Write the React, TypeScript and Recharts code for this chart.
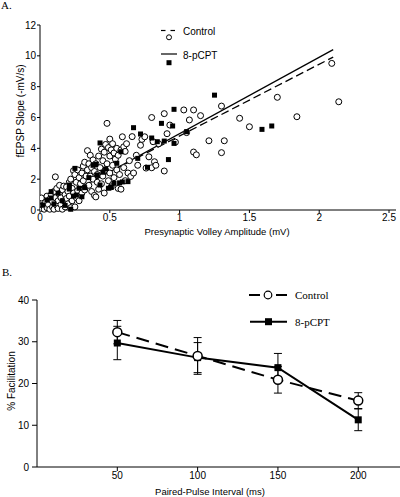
import React from 'react';
import { ScatterChart, Scatter, XAxis, YAxis, ReferenceLine, LineChart, Line, ErrorBar } from 'recharts';

// ---------- Panel A data ----------
const controlPoints: [number, number][] = [
  [0.01,0.1],[0.01,0.78],[0.02,0.3],[0.03,0.05],[0.04,0.5],[0.05,0.15],[0.05,0.9],[0.06,0.35],[0.07,0.05],[0.07,0.7],
  [0.08,1.0],[0.09,0.2],[0.09,0.55],[0.1,1.2],[0.1,0.05],[0.11,2.15],[0.11,0.8],[0.12,0.3],[0.12,1.4],[0.13,0.6],
  [0.13,0.1],[0.14,1.0],[0.14,1.6],[0.15,0.35],[0.15,0.8],[0.16,1.3],[0.16,0.05],[0.17,1.55],[0.17,0.6],[0.18,1.0],
  [0.18,0.2],[0.19,1.5],[0.19,0.75],[0.2,1.2],[0.2,0.4],[0.21,1.8],[0.21,0.9],[0.22,2.0],[0.22,0.15],[0.23,1.4],
  [0.23,0.6],[0.24,2.55],[0.24,1.1],[0.25,2.3],[0.25,0.2],[0.26,1.8],[0.26,0.8],[0.27,2.6],[0.27,1.25],[0.28,2.1],
  [0.28,0.6],[0.29,1.7],[0.3,2.4],[0.3,1.1],
  [0.31,2.85],[0.31,1.9],[0.32,3.1],[0.32,1.3],[0.33,2.2],[0.34,3.85],[0.34,2.6],[0.35,1.6],[0.35,3.0],[0.36,3.55],
  [0.36,2.2],[0.37,1.2],[0.37,2.75],[0.38,2.0],[0.38,3.25],[0.39,0.95],[0.39,2.5],[0.4,0.85],[0.4,3.0],[0.41,1.8],
  [0.41,2.3],[0.42,3.5],[0.42,1.35],[0.43,2.75],[0.44,3.95],[0.44,1.7],[0.45,2.2],[0.45,3.2],[0.46,3.75],[0.46,1.1],
  [0.47,4.25],[0.47,2.6],[0.48,5.62],[0.48,3.0],[0.49,4.05],[0.49,1.9],[0.5,4.6],[0.5,3.5],[0.5,2.4],[0.51,3.9],
  [0.51,1.5],[0.52,4.3],[0.52,2.9],[0.53,3.7],[0.53,2.1],[0.54,3.3],[0.55,2.6],[0.55,4.0],[0.56,1.4],[0.56,3.55],
  [0.57,2.3],[0.58,3.9],[0.58,1.35],[0.59,4.75],[0.6,4.1],[0.6,2.75],[0.61,1.9],[0.61,3.8],[0.62,4.3],[0.63,2.4],
  [0.64,3.2],[0.65,2.18],
  [0.66,4.76],[0.67,2.4],[0.69,3.55],[0.7,2.9],[0.72,4.2],[0.73,4.58],[0.75,4.75],[0.76,2.72],[0.78,3.45],[0.8,2.74],
  [0.8,6.0],[0.81,4.43],[0.82,3.13],[0.83,2.9],[0.85,4.3],[0.89,2.53],[0.89,6.25],[0.91,4.95],[0.93,5.51],[0.97,4.4],
  [1.03,6.49],[1.05,5.02],[1.07,5.84],[1.1,6.49],[1.1,3.76],[1.12,3.58],[1.15,6.12],[1.21,4.49],[1.3,6.74],[1.32,4.49],
  [1.3,3.72],[1.43,5.95],[1.5,5.4],[1.7,7.31],[1.84,6.05],[2.09,9.51],[2.14,7.02],
];

const pcptPoints: [number, number][] = [
  [0.02,0.32],[0.05,0.65],[0.08,0.78],[0.08,1.19],[0.1,0.4],[0.13,1.09],[0.16,0.6],[0.18,0.3],[0.21,1.36],[0.21,1.62],
  [0.22,0.05],[0.24,0.9],[0.25,2.7],[0.26,0.97],[0.28,1.41],[0.3,0.86],[0.32,1.45],[0.35,2.1],[0.38,2.9],[0.4,2.96],
  [0.41,2.27],[0.43,1.62],[0.43,4.35],[0.45,2.45],[0.47,2.66],[0.49,1.41],[0.51,1.47],[0.53,1.73],[0.55,3.03],[0.57,1.76],
  [0.59,1.82],[0.58,3.78],[0.63,1.84],[0.67,5.34],[0.7,3.35],[0.72,4.93],[0.77,2.77],[0.8,4.67],[0.84,4.43],[0.87,5.62],
  [0.89,4.47],[0.92,3.27],[0.96,4.32],[0.95,5.45],[0.96,6.53],[1.05,5.08],[1.25,7.45],[1.59,5.23],[1.66,5.45],
];

const fitX = [0, 2.1];
const controlFitY = [0.15, 9.92];
const pcptFitY = [0.0, 10.4];

const xTicksA = [0, 0.5, 1, 1.5, 2, 2.5];
const yTicksA = [0, 2, 4, 6, 8, 10, 12];

// ---------- Panel B data ----------
const intervals = [50, 100, 150, 200];
const controlMean = [32.3, 26.6, 20.9, 15.9];
const controlErr = [2.8, 4.4, 3.2, 1.9];
const pcptMean = [29.7, 26.2, 23.8, 11.3];
const pcptErr = [4.0, 3.6, 3.4, 2.6];
const xTicksB = [50, 100, 150, 200];
const yTicksB = [0, 10, 20, 30, 40];

const controlData = controlPoints.map(([x, y]) => ({ x, y }));
const pcptData = pcptPoints.map(([x, y]) => ({ x, y }));
const lineData = intervals.map((t, i) => ({
  t,
  control: controlMean[i],
  controlErr: controlErr[i],
  pcpt: pcptMean[i],
  pcptErr: pcptErr[i],
}));

const SANS = '"Liberation Sans", Arial, sans-serif';
const SERIF = '"Liberation Serif", "Times New Roman", serif';

const circleShape = (p: any) => (
  <circle cx={p.cx} cy={p.cy} r={3} fill="#fff" stroke="#000" strokeWidth={1} />
);
const squareShape = (p: any) => (
  <rect x={p.cx - 2.5} y={p.cy - 2.5} width={5} height={5} fill="#000" />
);

const openDot = (p: any) => (
  <circle key={`c${p.index}`} cx={p.cx} cy={p.cy} r={4.5} fill="#fff" stroke="#000" strokeWidth={1.5} />
);
const squareDot = (p: any) => (
  <rect key={`s${p.index}`} x={p.cx - 3.5} y={p.cy - 3.5} width={7} height={7} fill="#000" />
);

export default function App() {
  return (
    <div style={{ position: 'absolute', left: 0, top: 0, width: 400, height: 497, background: '#fff', overflow: 'hidden' }}>
      <div style={{ position: 'absolute', left: 0, top: 0 }}>
        <ScatterChart width={400} height={250} margin={{ top: 25, right: 4, bottom: 20, left: 0 }}>
          <XAxis
            type="number"
            dataKey="x"
            domain={[0, 2.55]}
            ticks={xTicksA}
            height={20}
            tickSize={3}
            tickMargin={1}
            axisLine={{ stroke: '#000' }}
            tickLine={{ stroke: '#000' }}
            tick={{ fill: '#000', fontSize: 10, fontFamily: SANS }}
            allowDataOverflow
          />
          <YAxis
            type="number"
            dataKey="y"
            domain={[0, 12]}
            ticks={yTicksA}
            width={40}
            tickSize={3}
            tickMargin={1}
            axisLine={{ stroke: '#000' }}
            tickLine={{ stroke: '#000' }}
            tick={{ fill: '#000', fontSize: 10, fontFamily: SANS }}
          />
          <Scatter data={controlData} shape={circleShape} isAnimationActive={false} />
          <Scatter data={pcptData} shape={squareShape} isAnimationActive={false} />
          <ReferenceLine
            segment={[{ x: fitX[0], y: controlFitY[0] }, { x: fitX[1], y: controlFitY[1] }]}
            stroke="#000"
            strokeWidth={1.3}
            strokeDasharray="8 4"
            ifOverflow="visible"
          />
          <ReferenceLine
            segment={[{ x: fitX[0], y: pcptFitY[0] }, { x: fitX[1], y: pcptFitY[1] }]}
            stroke="#000"
            strokeWidth={1.3}
            ifOverflow="visible"
          />
        </ScatterChart>
      </div>
      <div style={{ position: 'absolute', left: 0, top: 250 }}>
        <LineChart width={400} height={247} data={lineData} margin={{ top: 50, right: 0, bottom: 10, left: 0 }}>
          <XAxis
            type="number"
            dataKey="t"
            domain={[0, 226]}
            ticks={xTicksB}
            height={20}
            tickSize={4}
            tickMargin={1}
            axisLine={{ stroke: '#000' }}
            tickLine={{ stroke: '#000' }}
            tick={{ fill: '#000', fontSize: 10, fontFamily: SANS }}
          />
          <YAxis
            type="number"
            domain={[0, 40]}
            ticks={yTicksB}
            width={37}
            tickSize={5}
            tickMargin={3}
            axisLine={{ stroke: '#000' }}
            tickLine={{ stroke: '#000' }}
            tick={{ fill: '#000', fontSize: 10, fontFamily: SANS }}
          />
          <Line
            dataKey="pcpt"
            stroke="#000"
            strokeWidth={2}
            dot={squareDot}
            activeDot={false}
            isAnimationActive={false}
          >
            <ErrorBar dataKey="pcptErr" width={4} stroke="#000" strokeWidth={1} direction="y" />
          </Line>
          <Line
            dataKey="control"
            stroke="#000"
            strokeWidth={2}
            strokeDasharray="13 7"
            dot={openDot}
            activeDot={false}
            isAnimationActive={false}
          >
            <ErrorBar dataKey="controlErr" width={4} stroke="#000" strokeWidth={1} direction="y" />
          </Line>
        </LineChart>
      </div>
      <svg width={400} height={497} style={{ position: 'absolute', left: 0, top: 0, pointerEvents: 'none' }}>
        <text x={1} y={9} fontFamily={SERIF} fontSize={11}>A.</text>
        <text x={2} y={276} fontFamily={SERIF} fontSize={11}>B.</text>
        {/* Panel A axis titles */}
        <text x={217} y={235} textAnchor="middle" fontFamily={SANS} fontSize={9.5}>Presynaptic Volley Amplitude (mV)</text>
        <text x={0} y={0} transform="translate(24,111) rotate(-90)" textAnchor="middle" fontFamily={SANS} fontSize={10}>fEPSP Slope (-mV/s)</text>
        {/* Panel A legend */}
        <line x1={161} y1={30.5} x2={165.5} y2={30.5} stroke="#000" strokeWidth={1.2} />
        <line x1={170.5} y1={30.5} x2={175} y2={30.5} stroke="#000" strokeWidth={1.2} />
        <circle cx={169} cy={37.3} r={2.5} fill="#fff" stroke="#000" strokeWidth={1} />
        <text x={183} y={34.5} fontFamily={SANS} fontSize={10}>Control</text>
        <line x1={161} y1={54} x2={177} y2={54} stroke="#000" strokeWidth={1.2} />
        <rect x={166.5} y={60.2} width={5} height={5} fill="#000" />
        <text x={183} y={58.5} fontFamily={SANS} fontSize={10}>8-pCPT</text>
        {/* Panel B axis titles */}
        <text x={210} y={495} textAnchor="middle" fontFamily={SANS} fontSize={9.5}>Paired-Pulse Interval (ms)</text>
        <text x={0} y={0} transform="translate(15,381) rotate(-90)" textAnchor="middle" fontFamily={SANS} fontSize={10}>% Facilitation</text>
        {/* Panel B legend */}
        <line x1={249} y1={295} x2={260} y2={295} stroke="#000" strokeWidth={2} />
        <line x1={276} y1={295} x2={287} y2={295} stroke="#000" strokeWidth={2} />
        <circle cx={268} cy={295} r={3.8} fill="#fff" stroke="#000" strokeWidth={1.2} />
        <text x={295} y={299} fontFamily={SERIF} fontSize={11}>Control</text>
        <line x1={250} y1={321.7} x2={287} y2={321.7} stroke="#000" strokeWidth={2} />
        <rect x={265} y={318.2} width={7} height={7} fill="#000" />
        <text x={295} y={325.5} fontFamily={SERIF} fontSize={11}>8-pCPT</text>
      </svg>
    </div>
  );
}
